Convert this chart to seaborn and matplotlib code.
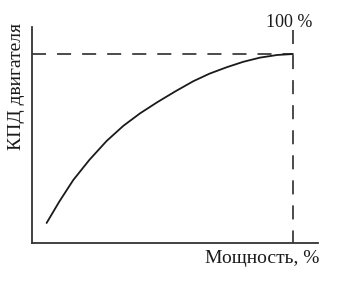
import matplotlib
matplotlib.use("Agg")
import matplotlib.pyplot as plt
import seaborn as sns
import pandas as pd

# Efficiency vs power curve (% of max)
power = [5.6, 10.5, 15.8, 22.0, 28.6, 35.0, 41.4, 48.0, 55.0, 61.8, 68.0, 74.6, 81.0, 87.4, 94.0, 100.0]
efficiency = [10.6, 22.0, 33.3, 44.0, 54.0, 62.0, 68.6, 74.5, 80.3, 85.6, 89.6, 93.0, 95.9, 98.1, 99.5, 100.0]

x_label = "Мощность, %"
y_label = "КПД двигателя"
top_label = "100 %"

sns.set_theme(style="white")
plt.rcParams["font.family"] = ["Liberation Serif", "DejaVu Serif"]

df = pd.DataFrame({"power": power, "efficiency": efficiency})

fig = plt.figure(figsize=(3.39, 2.82), dpi=100)
ax = fig.add_axes([32 / 339, 39 / 282, 286 / 339, 216 / 282])

sns.lineplot(data=df, x="power", y="efficiency", color="#1a1a1a", linewidth=1.3, ax=ax)

x_max = 109.6
y_max = 114.3
ax.set_xlim(0, x_max)
ax.set_ylim(0, y_max)

# dashed guide lines at 100 %
dash = (0, (9.2, 7.2))
ax.plot([0, 100], [100, 100], color="#1a1a1a", linewidth=1.1, linestyle=dash)
ax.plot([100, 100], [112.7, 0], color="#1a1a1a", linewidth=1.1, linestyle=dash)

sns.despine(ax=ax)
for side in ["left", "bottom"]:
    ax.spines[side].set_color("#333333")
    ax.spines[side].set_linewidth(1.3)
ax.set_xticks([])
ax.set_yticks([])
ax.set_xlabel("")
ax.set_ylabel("")

fig.text(289.5 / 339, 1 - 27 / 282, top_label, ha="center", va="baseline", fontsize=13, color="#1a1a1a")
fig.text(319 / 339, 1 - 263 / 282, x_label, ha="right", va="baseline", fontsize=14, color="#1a1a1a")
fig.text(17 / 339, 1 - 23 / 282, y_label, ha="center", va="top", rotation=90, fontsize=14, color="#1a1a1a")

fig.savefig("out.png", dpi=100)
